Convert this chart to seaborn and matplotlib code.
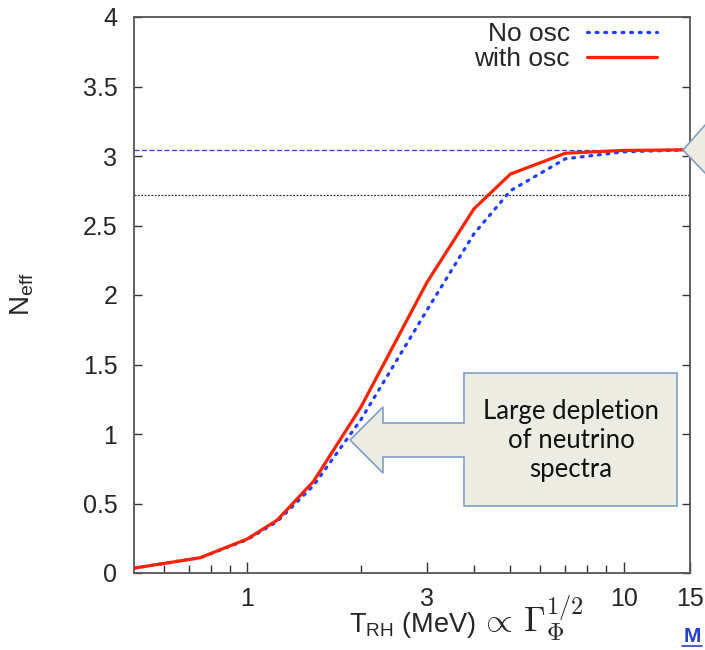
import numpy as np
import pandas as pd
import matplotlib
matplotlib.use("Agg")
import matplotlib.pyplot as plt
import seaborn as sns
from matplotlib.patches import Polygon
from matplotlib.lines import Line2D

# ---- data ----
t_rh = [0.5, 0.75, 1.0, 1.2, 1.5, 2.0, 3.0, 4.0, 5.0, 7.0, 10.0, 15.0]
neff_no_osc = [0.035, 0.11, 0.24, 0.37, 0.63, 1.10, 1.89, 2.44, 2.75, 2.98, 3.03, 3.045]
neff_with_osc = [0.035, 0.11, 0.245, 0.38, 0.66, 1.19, 2.09, 2.62, 2.87, 3.02, 3.04, 3.045]
series_names = ["No osc", "with osc"]
ref_dashed = 3.046
ref_dotted = 2.72
x_major = [1, 3, 10, 15]
x_major_labels = ["1", "3", "10", "15"]
x_minor = [0.6, 0.7, 0.8, 0.9, 2, 4, 5, 6, 7, 8, 9]
y_ticks = [0, 0.5, 1, 1.5, 2, 2.5, 3, 3.5, 4]
y_tick_labels = ["0", "0.5", "1", "1.5", "2", "2.5", "3", "3.5", "4"]

df = pd.DataFrame({
    "T": t_rh * 2,
    "Neff": neff_no_osc + neff_with_osc,
    "series": [series_names[0]] * len(t_rh) + [series_names[1]] * len(t_rh),
})

sns.set_style("ticks")
plt.rcParams["font.family"] = ["Liberation Sans", "DejaVu Sans"]
plt.rcParams["mathtext.fontset"] = "cm"
plt.rcParams["mathtext.rm"] = "Liberation Sans"
plt.rcParams["mathtext.sf"] = "Liberation Sans"
plt.rcParams["mathtext.it"] = "Liberation Sans:italic"
plt.rcParams["mathtext.bf"] = "Liberation Sans:bold"

W, H = 705, 650
fig = plt.figure(figsize=(W / 100, H / 100), dpi=100)
ax = fig.add_axes([134 / W, 1 - 573 / H, (690 - 134) / W, (573 - 17) / H])

palette = {series_names[0]: "#1f3fff", series_names[1]: "#ff2200"}
sns.lineplot(data=df, x="T", y="Neff", hue="series", palette=palette,
             ax=ax, legend=False, estimator=None, sort=False)
lines = ax.get_lines()
lines[0].set_linestyle((0, (0.6, 2.1)))
lines[0].set_linewidth(2.3)
lines[0].set_dash_capstyle("round")
lines[1].set_linewidth(2.3)
lines[1].set_zorder(3)

ax.axhline(ref_dashed, color="#3040d0", lw=0.9, ls=(0, (4, 2)), zorder=1)
ax.axhline(ref_dotted, color="#333333", lw=0.9, ls=(0, (1.5, 1.2)), zorder=1)

ax.set_xscale("log")
ax.set_xlim(0.5, 15)
ax.set_ylim(0, 4)
ax.set_xticks(x_major)
ax.set_xticklabels(x_major_labels)
ax.set_xticks(x_minor, minor=True)
ax.set_xticklabels([], minor=True)
ax.set_yticks(y_ticks)
ax.set_yticklabels(y_tick_labels)
ax.tick_params(axis="x", which="major", direction="in", length=8, width=1,
               labelsize=18, pad=10, color="#333333", top=False)
ax.tick_params(axis="x", which="minor", direction="in", length=6, width=1,
               color="#333333", top=False)
ax.tick_params(axis="y", which="major", direction="in", length=6, width=1,
               labelsize=18, pad=12, color="#333333", right=True)
ax.yaxis.set_minor_locator(matplotlib.ticker.NullLocator())
for s in ax.spines.values():
    s.set_color("#555555")
    s.set_linewidth(1.3)

# axis labels
ax.set_xlabel("")
ax.set_ylabel("")
fig.text(476 / W, 1 - 632 / H, r"T$_{\mathrm{RH}}$ (MeV)", ha="right", va="baseline",
         fontsize=19.5, math_fontfamily="custom")
fig.text(479 / W, 1 - 632 / H, r"$\propto\,\Gamma_{\Phi}^{1/2}$", ha="left",
         va="baseline", fontsize=25, math_fontfamily="cm")
fig.text(22 / W, 1 - 294 / H, r"N$_{\mathrm{eff}}$", ha="center", va="center",
         rotation=90, fontsize=20, math_fontfamily="custom")

# legend
handles = [Line2D([], [], color=palette[series_names[0]], lw=2.3, ls=(0, (0.6, 2.1)),
                  dash_capstyle="round"),
           Line2D([], [], color=palette[series_names[1]], lw=2.3)]
fig.legend(handles, series_names, loc="upper right", frameon=False, markerfirst=False,
           fontsize=19, handlelength=2.65, handletextpad=0.65, labelspacing=0.05,
           borderaxespad=0, borderpad=0,
           bbox_to_anchor=(657 / W, 1 - 22 / H))

# callout shape
def P(x, y):
    return (x / W, 1 - y / H)

fill = "#ecece2"
edge = "#7f9fc6"
callout = [P(464, 373), P(677, 373), P(677, 506), P(464, 506), P(464, 457),
           P(383, 457), P(383, 473), P(350, 440), P(383, 407), P(383, 423),
           P(464, 423)]
fig.add_artist(Polygon(callout, closed=True, transform=fig.transFigure,
                       facecolor=fill, edgecolor=edge, lw=1.2, zorder=5))
fig.text(571 / W, 1 - 441 / H, "Large depletion\nof neutrino\nspectra",
         ha="center", va="center", fontsize=18.5, linespacing=1.2,
         family=["Lato", "DejaVu Sans"], color="#111111", zorder=6)

right_arrow = [P(683, 150), P(706, 124), P(706, 174)]
fig.add_artist(Polygon(right_arrow, closed=True, transform=fig.transFigure,
                       facecolor=fill, edgecolor=edge, lw=1.2, zorder=5))

# "M" link marker
fig.text(692 / W, 1 - 642 / H, "M", ha="center", va="baseline", fontsize=15,
         fontweight="bold", color="#2a3fd0")
fig.add_artist(Line2D([682 / W, 702 / W], [1 - 645.5 / H, 1 - 645.5 / H],
                      transform=fig.transFigure, color="#2a3fd0", lw=1.2))

fig.savefig("out.png", dpi=100)
